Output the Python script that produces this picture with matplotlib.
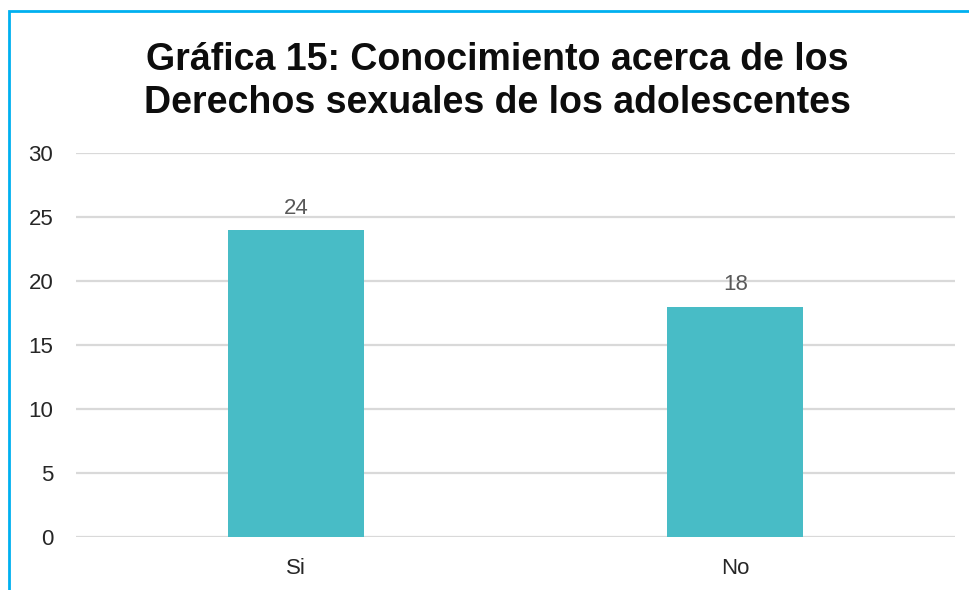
import matplotlib.pyplot as plt
from matplotlib.patches import Rectangle

categories = ['Si', 'No']
values = [24, 18]
y_ticks = [0, 5, 10, 15, 20, 25, 30]
title = 'Gráfica 15: Conocimiento acerca de los\nDerechos sexuales de los adolescentes'

plt.rcParams['font.family'] = ['Liberation Sans', 'DejaVu Sans']

fig = plt.figure(figsize=(9.7, 5.9), dpi=100)
ax = fig.add_axes([0.0784, 0.0898, 0.9061, 0.6509])

x = list(range(len(categories)))
bars = ax.bar(x, values, width=0.31, color='#48BCC6', zorder=3)
for b, v in zip(bars, values):
    ax.annotate(str(v), (b.get_x() + b.get_width() / 2, v), xytext=(0, 8),
                textcoords='offset points', ha='center', va='bottom',
                fontsize=16, color='#595959')

ax.set_xlim(-0.5, 1.5)
ax.set_ylim(0, 30)
ax.set_yticks(y_ticks)
ax.set_xticks(x)
ax.set_xticklabels(categories)
ax.tick_params(axis='both', length=0, labelsize=16, colors='#262626')
ax.tick_params(axis='y', pad=16.5)
ax.tick_params(axis='x', pad=15)
ax.yaxis.grid(True, color='#D9D9D9', linewidth=1.6, zorder=0)
for s in ax.spines.values():
    s.set_visible(False)

fig.text(0.513, 0.862, title, ha='center', va='center', fontsize=27,
         fontweight='bold', color='#0D0D0D', linespacing=1.28)

# blue frame around the chart (cut off at right and bottom)
fig.patches.append(Rectangle((9 / 970, -0.1), 1.2, (590 - 11) / 590 + 0.1,
                             transform=fig.transFigure, fill=False,
                             edgecolor='#00B0F0', linewidth=2))

fig.savefig('out.png', dpi=100)
